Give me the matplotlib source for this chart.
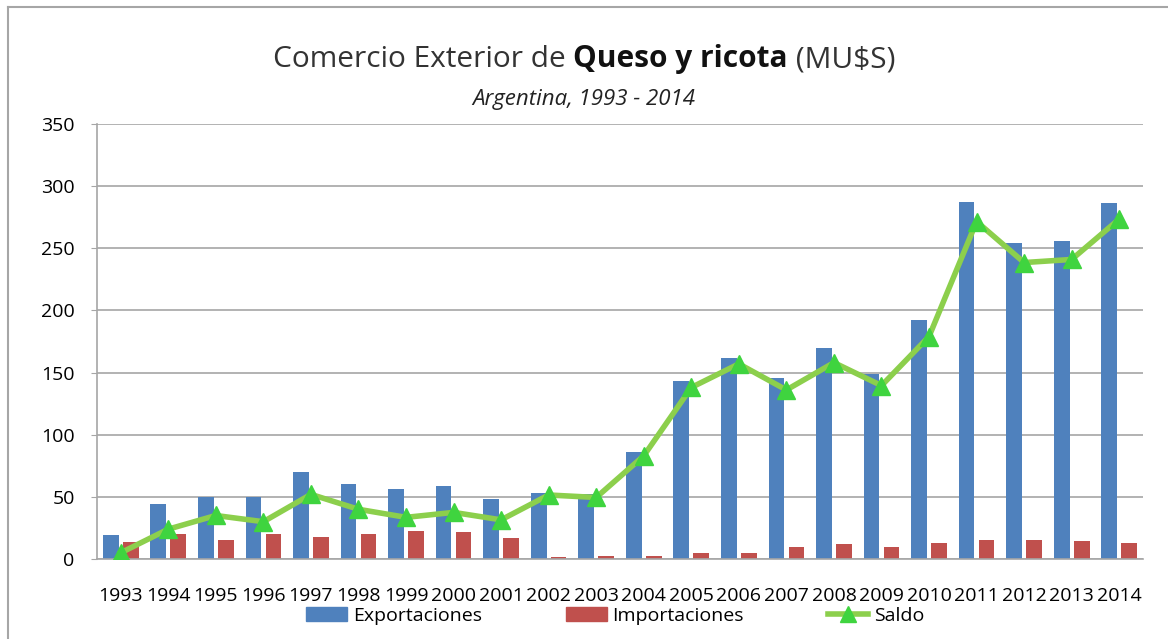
import matplotlib
matplotlib.use("Agg")
import matplotlib.pyplot as plt
import numpy as np
from matplotlib import font_manager
from matplotlib.lines import Line2D
from matplotlib.patches import Patch

years = ["1993", "1994", "1995", "1996", "1997", "1998", "1999", "2000", "2001", "2002", "2003",
         "2004", "2005", "2006", "2007", "2008", "2009", "2010", "2011", "2012", "2013", "2014"]
exportaciones = [19, 44, 50, 50, 70, 60, 56, 59, 48, 53, 52, 86, 143.5, 162, 146, 170, 149, 192, 287, 254, 256, 286.5]
importaciones = [14, 20, 15, 20, 18, 20, 22.5, 21.5, 16.5, 2, 2.5, 2.7, 5, 5, 9.5, 12, 9.5, 13, 15.5, 15.5, 14.5, 13]
saldo = [5, 24, 35, 30, 52, 40, 33.5, 37.5, 31.5, 51.5, 49.5, 83, 138, 157, 136, 158, 139.5, 179, 271.5, 238.5, 241, 273.5]

available = {f.name for f in font_manager.fontManager.ttflist}
fam = "DejaVu Sans"
for cand in ["Liberation Sans Narrow", "DejaVu Sans Condensed", "Open Sans"]:
    if cand in available:
        fam = cand
        break
plt.rcParams["font.family"] = fam

fig = plt.figure(figsize=(11.68, 6.39), dpi=100)
ax = fig.add_axes([0.083, 0.1252, 0.8956, 0.6808])

x = np.arange(len(years))
w = 0.33
ax.bar(x - 0.21, exportaciones, w, color="#4F81BD", zorder=2)
ax.bar(x + 0.21, importaciones, w, color="#C0504D", zorder=2)
ax.plot(x, saldo, color="#8CCF4C", lw=4, marker="^", markersize=13,
        markerfacecolor="#3FD43F", markeredgecolor="#3FD43F", zorder=3)

ax.set_xlim(-0.5, len(years) - 0.5)
ax.set_ylim(0, 350)
ax.set_yticks(range(0, 351, 50))
ax.set_xticks(x)
ax.set_xticklabels(years)
ax.yaxis.grid(True, color="#A6A6A6", lw=1.2, zorder=0)
ax.set_axisbelow(True)
for s in ["top", "right"]:
    ax.spines[s].set_visible(False)
for s in ["left", "bottom"]:
    ax.spines[s].set_color("#A6A6A6")
    ax.spines[s].set_linewidth(1.2)
ax.tick_params(axis="y", length=4, color="#A6A6A6", pad=12, labelsize=14)
ax.tick_params(axis="x", length=0, pad=20, labelsize=14)

# title with bold part
t1 = fig.text(0, 0, "Comercio Exterior de ", fontsize=21.5, color="#333333")
t2 = fig.text(0, 0, "Queso y ricota", fontsize=21.5, fontweight="bold", color="#111111")
t3 = fig.text(0, 0, " (MU$S)", fontsize=21.5, color="#333333")
fig.canvas.draw()
r = fig.canvas.get_renderer()
ws = [t.get_window_extent(r).width for t in (t1, t2, t3)]
x0 = 584 - sum(ws) / 2
yt = 1 - 67 / 639
for t, wd in zip((t1, t2, t3), ws):
    t.set_position((x0 / 1168, yt))
    x0 += wd
fig.text(584 / 1168, 1 - 105 / 639, "Argentina, 1993 - 2014", fontsize=16, style="italic",
         ha="center", color="#222222")

handles = [Patch(color="#4F81BD"), Patch(color="#C0504D"),
           Line2D([], [], color="#8CCF4C", lw=4, marker="^", markersize=12,
                  markerfacecolor="#3FD43F", markeredgecolor="#3FD43F")]
fig.legend(handles, ["Exportaciones", "Importaciones", "Saldo"], loc="center",
           bbox_to_anchor=(0.527, 1 - 616 / 639), ncol=3, frameon=False, fontsize=14,
           columnspacing=4.3, handlelength=2.1, handleheight=0.7, handletextpad=0.3)

# outer frame: only top and left edges visible
fig.add_artist(Line2D([8 / 1168, 8 / 1168], [0, 1 - 7 / 639], transform=fig.transFigure,
                      color="#A6A6A6", lw=1.5))
fig.add_artist(Line2D([8 / 1168, 1], [1 - 7 / 639, 1 - 7 / 639], transform=fig.transFigure,
                      color="#A6A6A6", lw=1.5))

fig.savefig("out.png", dpi=100)
